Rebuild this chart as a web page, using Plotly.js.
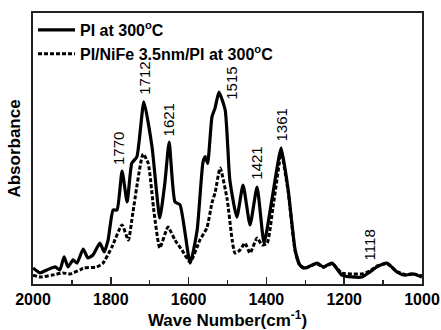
<!DOCTYPE html>
<html>
<head>
<meta charset="utf-8">
<script src="https://cdn.plot.ly/plotly-3.0.1.min.js"></script>
<style>html,body{margin:0;padding:0;background:#fff;}#chart{width:441px;height:330px;}</style>
</head>
<body>
<div id="chart"></div>
<script>
// PI at 300°C (solid)
const waveSolid = [2000,1982,1964,1943,1931,1920,1910,1897,1887,1871,1859,1846,1828,1817,1807,1794,1784,1771,1758,1746,1733,1715,1694,1674,1661,1650,1635,1622,1596,1578,1563,1557,1551,1540,1532,1522,1506,1494,1476,1460,1442,1424,1406,1386,1362,1344,1326,1314,1301,1270,1254,1231,1206,1180,1154,1134,1116,1090,1064,1044,1023,1000];
const absSolid  = [0.059,0.041,0.052,0.063,0.052,0.100,0.063,0.089,0.077,0.129,0.096,0.107,0.151,0.118,0.162,0.273,0.273,0.417,0.303,0.446,0.469,0.672,0.506,0.244,0.373,0.524,0.303,0.292,0.077,0.199,0.450,0.470,0.445,0.616,0.649,0.708,0.642,0.384,0.247,0.365,0.218,0.358,0.151,0.310,0.502,0.347,0.125,0.070,0.059,0.077,0.063,0.077,0.033,0.026,0.026,0.044,0.063,0.077,0.044,0.033,0.037,0.026];

// PI/NiFe 3.5nm/PI at 300°C (dashed)
const waveDash = [2000,1982,1950,1923,1905,1879,1871,1836,1820,1797,1771,1755,1743,1717,1704,1689,1674,1653,1635,1617,1596,1571,1553,1540,1532,1519,1501,1488,1481,1468,1455,1442,1424,1411,1398,1383,1365,1362,1344,1326,1314,1301,1270,1254,1231,1206,1180,1154,1134,1116,1090,1064,1044,1023,1000];
const absDash  = [0.033,0.026,0.033,0.041,0.037,0.052,0.059,0.063,0.077,0.137,0.218,0.162,0.266,0.480,0.446,0.266,0.133,0.210,0.162,0.125,0.081,0.162,0.207,0.299,0.336,0.428,0.314,0.162,0.114,0.125,0.151,0.114,0.170,0.144,0.151,0.284,0.465,0.490,0.340,0.120,0.068,0.058,0.075,0.062,0.075,0.040,0.037,0.037,0.048,0.066,0.075,0.046,0.035,0.037,0.030];

// peak labels
const peakLabels = ["1770","1712","1621","1515","1421","1361","1118"];
const peakLabelX = [1780,1714,1653,1490,1424,1360,1134];
const peakLabelY = [0.432,0.690,0.539,0.672,0.376,0.520,0.081];

const traces = [
  {x: waveSolid, y: absSolid, type: 'scatter', mode: 'lines', name: 'PI at 300<sup>o</sup>C',
   line: {color: '#000', width: 3.2, shape: 'spline', smoothing: 0.5}},
  {x: waveDash, y: absDash, type: 'scatter', mode: 'lines', name: 'PI/NiFe 3.5nm/PI at 300<sup>o</sup>C',
   line: {color: '#000', width: 3, dash: '4px,2px', shape: 'spline', smoothing: 0.5}}
];

const annotations = peakLabels.map((t, i) => ({
  x: peakLabelX[i], y: peakLabelY[i], xref: 'x', yref: 'y', text: t, showarrow: false,
  textangle: -90, xanchor: 'center', yanchor: 'bottom',
  font: {family: 'Arial, Liberation Sans, sans-serif', size: 15, color: '#000'}
}));

const layout = {
  width: 441, height: 330,
  margin: {l: 33, r: 19, t: 13, b: 46},
  paper_bgcolor: '#fff', plot_bgcolor: '#fff',
  font: {family: 'Arial, Liberation Sans, sans-serif', color: '#000'},
  showlegend: true,
  legend: {x: 0.0, y: 1, xanchor: 'left', yanchor: 'top', bgcolor: 'rgba(0,0,0,0)',
           itemwidth: 37,
           font: {size: 16, weight: 'bold', color: '#000'}, tracegroupgap: 0},
  xaxis: {range: [2000, 1000], showgrid: false, zeroline: false, showline: true, mirror: true,
          linecolor: '#222', linewidth: 2, ticks: 'inside', ticklen: 7, tickwidth: 1.5, tickcolor: '#222',
          dtick: 200, tick0: 1000,
          minor: {dtick: 100, ticks: 'inside', ticklen: 4, tickwidth: 1.5, tickcolor: '#222'},
          tickfont: {size: 16, weight: 'bold'},
          title: {text: 'Wave Number(cm<sup>-1</sup>)', font: {size: 17, weight: 'bold'}, standoff: 4}},
  yaxis: {range: [0, 1], showgrid: false, zeroline: false, showline: true, mirror: true,
          linecolor: '#222', linewidth: 2, ticks: '', showticklabels: false,
          title: {text: 'Absorbance', font: {size: 17, weight: 'bold'}, standoff: 6}},
  annotations: annotations
};

Plotly.newPlot('chart', traces, layout, {displayModeBar: false, staticPlot: true});
</script>
</body>
</html>
